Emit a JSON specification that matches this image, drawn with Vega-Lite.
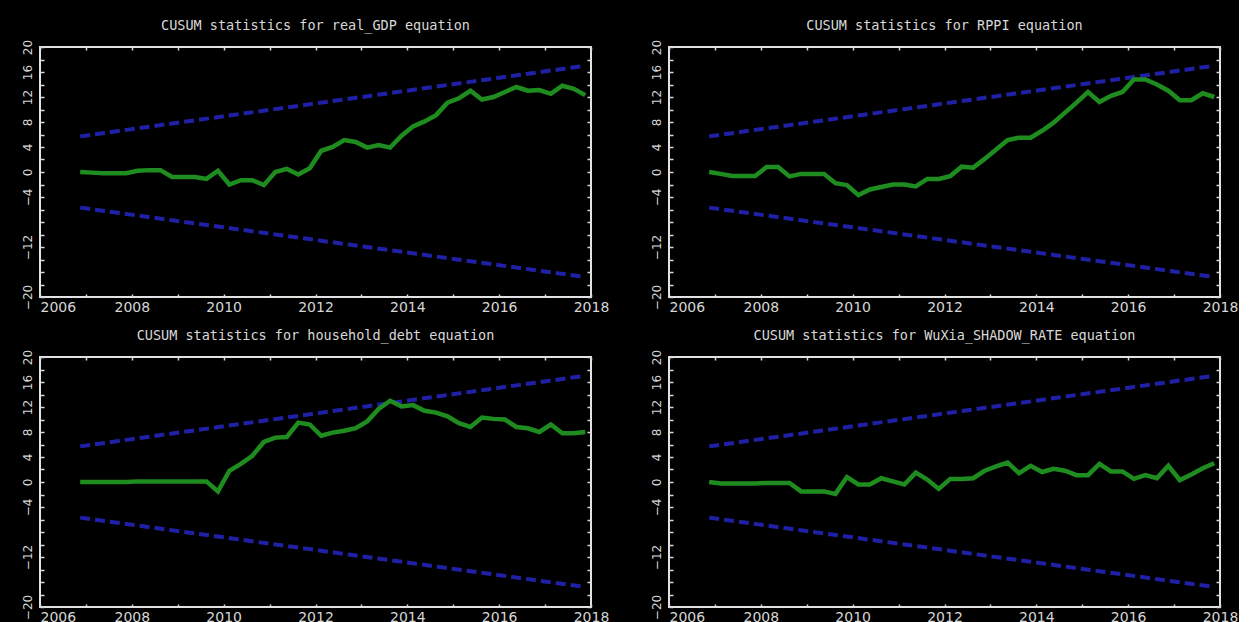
{
  "$schema": "https://vega.github.io/schema/vega-lite/v6.json",
  "background": "black",
  "padding": {"left": 20, "top": 17, "right": 0, "bottom": 0},
  "datasets": {
    "cusum": [
      {"t": 2006.875, "real_GDP": 0.0, "RPPI": 0.0, "household_debt": 0.0, "WuXia_SHADOW_RATE": 0.0},
      {"t": 2007.125, "real_GDP": -0.1, "RPPI": -0.3, "household_debt": 0.0, "WuXia_SHADOW_RATE": -0.25},
      {"t": 2007.375, "real_GDP": -0.2, "RPPI": -0.65, "household_debt": 0.0, "WuXia_SHADOW_RATE": -0.25},
      {"t": 2007.625, "real_GDP": -0.2, "RPPI": -0.65, "household_debt": 0.0, "WuXia_SHADOW_RATE": -0.25},
      {"t": 2007.875, "real_GDP": -0.2, "RPPI": -0.65, "household_debt": 0.0, "WuXia_SHADOW_RATE": -0.25},
      {"t": 2008.125, "real_GDP": 0.2, "RPPI": 0.8, "household_debt": 0.1, "WuXia_SHADOW_RATE": -0.15},
      {"t": 2008.375, "real_GDP": 0.3, "RPPI": 0.8, "household_debt": 0.1, "WuXia_SHADOW_RATE": -0.15},
      {"t": 2008.625, "real_GDP": 0.3, "RPPI": -0.7, "household_debt": 0.1, "WuXia_SHADOW_RATE": -0.15},
      {"t": 2008.875, "real_GDP": -0.8, "RPPI": -0.3, "household_debt": 0.1, "WuXia_SHADOW_RATE": -1.5},
      {"t": 2009.125, "real_GDP": -0.8, "RPPI": -0.3, "household_debt": 0.1, "WuXia_SHADOW_RATE": -1.5},
      {"t": 2009.375, "real_GDP": -0.8, "RPPI": -0.3, "household_debt": 0.1, "WuXia_SHADOW_RATE": -1.5},
      {"t": 2009.625, "real_GDP": -1.1, "RPPI": -1.8, "household_debt": 0.1, "WuXia_SHADOW_RATE": -1.9},
      {"t": 2009.875, "real_GDP": 0.2, "RPPI": -2.1, "household_debt": -1.5, "WuXia_SHADOW_RATE": 0.8},
      {"t": 2010.125, "real_GDP": -2.0, "RPPI": -3.7, "household_debt": 1.8, "WuXia_SHADOW_RATE": -0.4},
      {"t": 2010.375, "real_GDP": -1.3, "RPPI": -2.8, "household_debt": 2.9, "WuXia_SHADOW_RATE": -0.4},
      {"t": 2010.625, "real_GDP": -1.3, "RPPI": -2.4, "household_debt": 4.2, "WuXia_SHADOW_RATE": 0.6},
      {"t": 2010.875, "real_GDP": -2.1, "RPPI": -2.0, "household_debt": 6.4, "WuXia_SHADOW_RATE": 0.1},
      {"t": 2011.125, "real_GDP": 0.0, "RPPI": -2.0, "household_debt": 7.1, "WuXia_SHADOW_RATE": -0.4},
      {"t": 2011.375, "real_GDP": 0.5, "RPPI": -2.3, "household_debt": 7.2, "WuXia_SHADOW_RATE": 1.5},
      {"t": 2011.625, "real_GDP": -0.4, "RPPI": -1.1, "household_debt": 9.5, "WuXia_SHADOW_RATE": 0.4},
      {"t": 2011.875, "real_GDP": 0.6, "RPPI": -1.1, "household_debt": 9.2, "WuXia_SHADOW_RATE": -1.1},
      {"t": 2012.125, "real_GDP": 3.4, "RPPI": -0.65, "household_debt": 7.4, "WuXia_SHADOW_RATE": 0.5},
      {"t": 2012.375, "real_GDP": 4.0, "RPPI": 0.85, "household_debt": 7.9, "WuXia_SHADOW_RATE": 0.5},
      {"t": 2012.625, "real_GDP": 5.1, "RPPI": 0.7, "household_debt": 8.2, "WuXia_SHADOW_RATE": 0.6},
      {"t": 2012.875, "real_GDP": 4.8, "RPPI": 2.1, "household_debt": 8.6, "WuXia_SHADOW_RATE": 1.8},
      {"t": 2013.125, "real_GDP": 3.9, "RPPI": 3.6, "household_debt": 9.7, "WuXia_SHADOW_RATE": 2.5},
      {"t": 2013.375, "real_GDP": 4.3, "RPPI": 5.1, "household_debt": 11.7, "WuXia_SHADOW_RATE": 3.1},
      {"t": 2013.625, "real_GDP": 3.9, "RPPI": 5.5, "household_debt": 13.0, "WuXia_SHADOW_RATE": 1.4},
      {"t": 2013.875, "real_GDP": 5.8, "RPPI": 5.5, "household_debt": 12.1, "WuXia_SHADOW_RATE": 2.6},
      {"t": 2014.125, "real_GDP": 7.3, "RPPI": 6.6, "household_debt": 12.3, "WuXia_SHADOW_RATE": 1.6},
      {"t": 2014.375, "real_GDP": 8.1, "RPPI": 7.9, "household_debt": 11.4, "WuXia_SHADOW_RATE": 2.1},
      {"t": 2014.625, "real_GDP": 9.1, "RPPI": 9.5, "household_debt": 11.1, "WuXia_SHADOW_RATE": 1.8},
      {"t": 2014.875, "real_GDP": 11.1, "RPPI": 11.1, "household_debt": 10.5, "WuXia_SHADOW_RATE": 1.1},
      {"t": 2015.125, "real_GDP": 11.8, "RPPI": 12.8, "household_debt": 9.4, "WuXia_SHADOW_RATE": 1.1},
      {"t": 2015.375, "real_GDP": 13.0, "RPPI": 11.2, "household_debt": 8.8, "WuXia_SHADOW_RATE": 2.9},
      {"t": 2015.625, "real_GDP": 11.6, "RPPI": 12.2, "household_debt": 10.3, "WuXia_SHADOW_RATE": 1.7},
      {"t": 2015.875, "real_GDP": 12.0, "RPPI": 12.8, "household_debt": 10.1, "WuXia_SHADOW_RATE": 1.7},
      {"t": 2016.125, "real_GDP": 12.8, "RPPI": 14.8, "household_debt": 10.0, "WuXia_SHADOW_RATE": 0.5},
      {"t": 2016.375, "real_GDP": 13.6, "RPPI": 14.8, "household_debt": 8.8, "WuXia_SHADOW_RATE": 1.1},
      {"t": 2016.625, "real_GDP": 13.0, "RPPI": 14.0, "household_debt": 8.6, "WuXia_SHADOW_RATE": 0.6},
      {"t": 2016.875, "real_GDP": 13.1, "RPPI": 13.0, "household_debt": 8.0, "WuXia_SHADOW_RATE": 2.6},
      {"t": 2017.125, "real_GDP": 12.5, "RPPI": 11.5, "household_debt": 9.2, "WuXia_SHADOW_RATE": 0.3},
      {"t": 2017.375, "real_GDP": 13.8, "RPPI": 11.5, "household_debt": 7.8, "WuXia_SHADOW_RATE": 1.2},
      {"t": 2017.625, "real_GDP": 13.3, "RPPI": 12.6, "household_debt": 7.8, "WuXia_SHADOW_RATE": 2.2},
      {"t": 2017.875, "real_GDP": 12.3, "RPPI": 12.0, "household_debt": 8.0, "WuXia_SHADOW_RATE": 3.0}
    ],
    "bounds": [
      {"t": 2006.875, "side": "upper", "v": 5.7},
      {"t": 2017.875, "side": "upper", "v": 17.0},
      {"t": 2006.875, "side": "lower", "v": -5.7},
      {"t": 2017.875, "side": "lower", "v": -16.8}
    ]
  },
  "columns": 2,
  "spacing": {"row": 12, "column": 39},
  "concat": [
    {
      "title": "CUSUM statistics for real_GDP equation",
      "width": 551, "height": 250,
      "layer": [
        {
          "data": {"name": "bounds"},
          "mark": {"type": "line", "color": "#2020a6", "strokeWidth": 4, "strokeDash": [10, 5]},
          "encoding": {
            "x": {"field": "t", "type": "quantitative", "scale": {"domain": [2006, 2018], "nice": false, "zero": false},
              "axis": {"orient": "top", "title": null, "labels": false, "tickSize": -3, "values": [2006,2007,2008,2009,2010,2011,2012,2013,2014,2015,2016,2017,2018]}},
            "y": {"field": "v", "type": "quantitative", "scale": {"domain": [-20, 20], "nice": false},
              "axis": {"orient": "right", "title": null, "labels": false, "tickSize": -4, "values": [-20,-18,-16,-14,-12,-10,-8,-6,-4,-2,0,2,4,6,8,10,12,14,16,18,20]}},
            "detail": {"field": "side"}
          }
        },
        {
          "data": {"name": "cusum"},
          "mark": {"type": "line", "color": "#1f8c1f", "strokeWidth": 4.5},
          "encoding": {
            "x": {"field": "t", "type": "quantitative",
              "axis": {"orient": "bottom", "title": null, "format": "d", "tickSize": -3, "labelPadding": 6, "values": [2006,2007,2008,2009,2010,2011,2012,2013,2014,2015,2016,2017,2018],
                "labelExpr": "datum.value % 2 === 0 ? datum.label : ''",
                "labelAlign": {"condition": {"test": "datum.value === 2006", "value": "left"}, "value": "center"}}},
            "y": {"field": "real_GDP", "type": "quantitative",
              "axis": {"orient": "left", "title": null, "tickSize": -4, "labelAngle": 270, "labelPadding": 10, "values": [-20,-18,-16,-14,-12,-10,-8,-6,-4,-2,0,2,4,6,8,10,12,14,16,18,20],
                "labelExpr": "indexof([20,16,12,8,4,0,-4,-12,-20], datum.value) >= 0 ? datum.label : ''"}}
          }
        }
      ]
    },
    {
      "title": "CUSUM statistics for RPPI equation",
      "width": 551, "height": 250,
      "layer": [
        {
          "data": {"name": "bounds"},
          "mark": {"type": "line", "color": "#2020a6", "strokeWidth": 4, "strokeDash": [10, 5]},
          "encoding": {
            "x": {"field": "t", "type": "quantitative", "scale": {"domain": [2006, 2018], "nice": false, "zero": false},
              "axis": {"orient": "top", "title": null, "labels": false, "tickSize": -3, "values": [2006,2007,2008,2009,2010,2011,2012,2013,2014,2015,2016,2017,2018]}},
            "y": {"field": "v", "type": "quantitative", "scale": {"domain": [-20, 20], "nice": false},
              "axis": {"orient": "right", "title": null, "labels": false, "tickSize": -4, "values": [-20,-18,-16,-14,-12,-10,-8,-6,-4,-2,0,2,4,6,8,10,12,14,16,18,20]}},
            "detail": {"field": "side"}
          }
        },
        {
          "data": {"name": "cusum"},
          "mark": {"type": "line", "color": "#1f8c1f", "strokeWidth": 4.5},
          "encoding": {
            "x": {"field": "t", "type": "quantitative",
              "axis": {"orient": "bottom", "title": null, "format": "d", "tickSize": -3, "labelPadding": 6, "values": [2006,2007,2008,2009,2010,2011,2012,2013,2014,2015,2016,2017,2018],
                "labelExpr": "datum.value % 2 === 0 ? datum.label : ''",
                "labelAlign": {"condition": {"test": "datum.value === 2006", "value": "left"}, "value": "center"}}},
            "y": {"field": "RPPI", "type": "quantitative",
              "axis": {"orient": "left", "title": null, "tickSize": -4, "labelAngle": 270, "labelPadding": 10, "values": [-20,-18,-16,-14,-12,-10,-8,-6,-4,-2,0,2,4,6,8,10,12,14,16,18,20],
                "labelExpr": "indexof([20,16,12,8,4,0,-4,-12,-20], datum.value) >= 0 ? datum.label : ''"}}
          }
        }
      ]
    },
    {
      "title": "CUSUM statistics for household_debt equation",
      "width": 551, "height": 250,
      "layer": [
        {
          "data": {"name": "bounds"},
          "mark": {"type": "line", "color": "#2020a6", "strokeWidth": 4, "strokeDash": [10, 5]},
          "encoding": {
            "x": {"field": "t", "type": "quantitative", "scale": {"domain": [2006, 2018], "nice": false, "zero": false},
              "axis": {"orient": "top", "title": null, "labels": false, "tickSize": -3, "values": [2006,2007,2008,2009,2010,2011,2012,2013,2014,2015,2016,2017,2018]}},
            "y": {"field": "v", "type": "quantitative", "scale": {"domain": [-20, 20], "nice": false},
              "axis": {"orient": "right", "title": null, "labels": false, "tickSize": -4, "values": [-20,-18,-16,-14,-12,-10,-8,-6,-4,-2,0,2,4,6,8,10,12,14,16,18,20]}},
            "detail": {"field": "side"}
          }
        },
        {
          "data": {"name": "cusum"},
          "mark": {"type": "line", "color": "#1f8c1f", "strokeWidth": 4.5},
          "encoding": {
            "x": {"field": "t", "type": "quantitative",
              "axis": {"orient": "bottom", "title": null, "format": "d", "tickSize": -3, "labelPadding": 6, "values": [2006,2007,2008,2009,2010,2011,2012,2013,2014,2015,2016,2017,2018],
                "labelExpr": "datum.value % 2 === 0 ? datum.label : ''",
                "labelAlign": {"condition": {"test": "datum.value === 2006", "value": "left"}, "value": "center"}}},
            "y": {"field": "household_debt", "type": "quantitative",
              "axis": {"orient": "left", "title": null, "tickSize": -4, "labelAngle": 270, "labelPadding": 10, "values": [-20,-18,-16,-14,-12,-10,-8,-6,-4,-2,0,2,4,6,8,10,12,14,16,18,20],
                "labelExpr": "indexof([20,16,12,8,4,0,-4,-12,-20], datum.value) >= 0 ? datum.label : ''"}}
          }
        }
      ]
    },
    {
      "title": "CUSUM statistics for WuXia_SHADOW_RATE equation",
      "width": 551, "height": 250,
      "layer": [
        {
          "data": {"name": "bounds"},
          "mark": {"type": "line", "color": "#2020a6", "strokeWidth": 4, "strokeDash": [10, 5]},
          "encoding": {
            "x": {"field": "t", "type": "quantitative", "scale": {"domain": [2006, 2018], "nice": false, "zero": false},
              "axis": {"orient": "top", "title": null, "labels": false, "tickSize": -3, "values": [2006,2007,2008,2009,2010,2011,2012,2013,2014,2015,2016,2017,2018]}},
            "y": {"field": "v", "type": "quantitative", "scale": {"domain": [-20, 20], "nice": false},
              "axis": {"orient": "right", "title": null, "labels": false, "tickSize": -4, "values": [-20,-18,-16,-14,-12,-10,-8,-6,-4,-2,0,2,4,6,8,10,12,14,16,18,20]}},
            "detail": {"field": "side"}
          }
        },
        {
          "data": {"name": "cusum"},
          "mark": {"type": "line", "color": "#1f8c1f", "strokeWidth": 4.5},
          "encoding": {
            "x": {"field": "t", "type": "quantitative",
              "axis": {"orient": "bottom", "title": null, "format": "d", "tickSize": -3, "labelPadding": 6, "values": [2006,2007,2008,2009,2010,2011,2012,2013,2014,2015,2016,2017,2018],
                "labelExpr": "datum.value % 2 === 0 ? datum.label : ''",
                "labelAlign": {"condition": {"test": "datum.value === 2006", "value": "left"}, "value": "center"}}},
            "y": {"field": "WuXia_SHADOW_RATE", "type": "quantitative",
              "axis": {"orient": "left", "title": null, "tickSize": -4, "labelAngle": 270, "labelPadding": 10, "values": [-20,-18,-16,-14,-12,-10,-8,-6,-4,-2,0,2,4,6,8,10,12,14,16,18,20],
                "labelExpr": "indexof([20,16,12,8,4,0,-4,-12,-20], datum.value) >= 0 ? datum.label : ''"}}
          }
        }
      ]
    }
  ],
  "config": {
    "view": {"stroke": "#e2e2e2", "strokeWidth": 2},
    "axis": {
      "domain": false,
      "grid": false,
      "tickColor": "#d8d8d8",
      "tickWidth": 1.5,
      "labelColor": "#d6d6d6",
      "labelFont": "DejaVu Sans",
      "labelOverlap": false,
      "labelBound": false
    },
    "axisX": {"labelFontSize": 14},
    "axisY": {"labelFontSize": 12},
    "title": {
      "font": "DejaVu Sans Mono",
      "fontSize": 13.5,
      "fontWeight": "normal",
      "color": "#d8d8d8",
      "anchor": "middle",
      "offset": 7
    }
  }
}
